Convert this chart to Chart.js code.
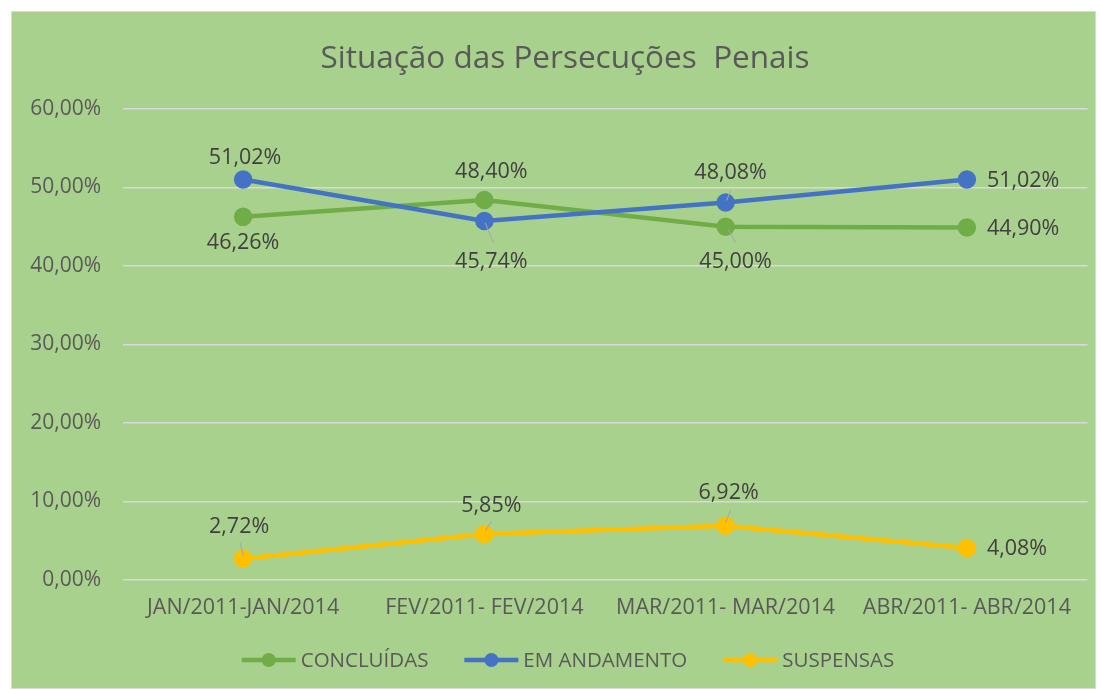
<!DOCTYPE html>
<html>
<head>
<meta charset="utf-8">
<script src="https://cdn.jsdelivr.net/npm/chart.js@4/dist/chart.umd.min.js"></script>
<style>
  html, body { margin: 0; padding: 0; background: #ffffff; }
  #frame { position: absolute; left: 11px; top: 11px; width: 1083px; height: 676px;
           background: #A9D18E; border: 1px solid #D9D9D9; }
  canvas { display: block; }
</style>
</head>
<body>
<div id="frame"><canvas id="c" width="1083" height="676"></canvas></div>
<script>
// ---- DATA ----
const title = 'Situação das Persecuções  Penais';
const categories = ['JAN/2011-JAN/2014', 'FEV/2011- FEV/2014', 'MAR/2011- MAR/2014', 'ABR/2011- ABR/2014'];
const seriesNames = ['CONCLUÍDAS', 'EM ANDAMENTO', 'SUSPENSAS'];
const concluidas = [46.26, 48.40, 45.00, 44.90];
const emAndamento = [51.02, 45.74, 48.08, 51.02];
const suspensas = [2.72, 5.85, 6.92, 4.08];
const yTickValues = [0, 10, 20, 30, 40, 50, 60];

// ---- STYLE ----
const colors = ['#70AD47', '#4472C4', '#FFC000'];
const textColor = '#595959';
const fontFamily = '"Open Sans", "DejaVu Sans", sans-serif';
// data label placement per series/point: offset from point, alignment, optional leader line
const labelPlacement = [
  [ {dx: 0, dy: 26}, {dx: 7, dy: -28}, {dx: 10, dy: 35, lead: [2, 2, 10, 16]}, {dx: 20, dy: 1, align: 'left'} ],
  [ {dx: 2, dy: -22}, {dx: 7, dy: 41, lead: [1, 2, 9, 22]}, {dx: 5, dy: -30, lead: [1, -2, 5, -12]}, {dx: 20, dy: 1, align: 'left'} ],
  [ {dx: -4, dy: -32, lead: [0, -3, -3, -16]}, {dx: 7, dy: -28, lead: [1, -3, 7, -13]}, {dx: 3, dy: -33, lead: [0, -3, 5, -16]}, {dx: 20, dy: 1, align: 'left'} ]
];

const fmt = v => v.toFixed(2).replace('.', ',') + '%';

const seriesValues = [concluidas, emAndamento, suspensas];
const drawOrder = [3, 2, 1];

const datasets = seriesValues.map((vals, i) => ({
  label: seriesNames[i],
  data: vals,
  borderColor: colors[i],
  backgroundColor: colors[i],
  pointBackgroundColor: colors[i],
  pointBorderColor: colors[i],
  borderWidth: 4.5,
  pointRadius: 7,
  pointHoverRadius: 7,
  tension: 0,
  order: drawOrder[i]
}));

const decorPlugin = {
  id: 'decor',
  afterDatasetsDraw(chart) {
    const ctx = chart.ctx;
    ctx.save();
    // data labels
    ctx.font = '21.5px ' + fontFamily;
    ctx.textBaseline = 'middle';
    chart.data.datasets.forEach((ds, i) => {
      const meta = chart.getDatasetMeta(i);
      meta.data.forEach((pt, j) => {
        const p = labelPlacement[i][j];
        if (p.lead) {
          ctx.strokeStyle = '#A6A6A6';
          ctx.lineWidth = 1;
          ctx.beginPath();
          ctx.moveTo(pt.x + p.lead[0], pt.y + p.lead[1]);
          ctx.lineTo(pt.x + p.lead[2], pt.y + p.lead[3]);
          ctx.stroke();
        }
        ctx.fillStyle = '#404040';
        ctx.textAlign = p.align || 'center';
        ctx.fillText(fmt(ds.data[j]), pt.x + p.dx, pt.y + p.dy);
      });
    });
    // title
    ctx.fillStyle = textColor;
    ctx.font = '31.5px ' + fontFamily;
    ctx.textAlign = 'center';
    ctx.textBaseline = 'middle';
    ctx.fillText(title, 553, 47);
    // legend
    ctx.font = '20.5px ' + fontFamily;
    const markerW = 54, gapText = 5, gapItem = 36;
    const widths = seriesNames.map(n => ctx.measureText(n).width);
    let total = 0;
    widths.forEach((w, i) => { total += markerW + gapText + w + (i < widths.length - 1 ? gapItem : 0); });
    let x = 556 - total / 2;
    const ly = 648;
    seriesNames.forEach((n, i) => {
      ctx.strokeStyle = colors[i];
      ctx.lineWidth = 4.5;
      ctx.beginPath();
      ctx.moveTo(x, ly);
      ctx.lineTo(x + markerW, ly);
      ctx.stroke();
      ctx.fillStyle = colors[i];
      ctx.beginPath();
      ctx.arc(x + markerW / 2, ly, 7, 0, Math.PI * 2);
      ctx.fill();
      ctx.fillStyle = textColor;
      ctx.textAlign = 'left';
      ctx.fillText(n, x + markerW + gapText, ly + 1);
      x += markerW + gapText + widths[i] + gapItem;
    });
    ctx.restore();
  }
};

new Chart(document.getElementById('c'), {
  type: 'line',
  data: { labels: categories, datasets: datasets },
  plugins: [decorPlugin],
  options: {
    responsive: false,
    animation: false,
    devicePixelRatio: 1,
    layout: { autoPadding: false, padding: { top: 97, bottom: 48, left: 0, right: 7.5 } },
    plugins: { legend: { display: false }, title: { display: false }, tooltip: { enabled: false } },
    scales: {
      x: {
        offset: true,
        grid: { display: false },
        border: { display: false },
        ticks: { color: textColor, font: { family: fontFamily, size: 21.5 }, padding: 7, maxRotation: 0, autoSkip: false },
        afterFit: s => { s.height = 60; s.paddingLeft = 0; s.paddingRight = 0; }
      },
      y: {
        min: 0, max: 60,
        afterBuildTicks: s => { s.ticks = yTickValues.map(v => ({ value: v })); },
        grid: { color: '#D9D9D9', lineWidth: 1.5, drawTicks: false },
        border: { display: false },
        ticks: { color: textColor, font: { family: fontFamily, size: 21 }, padding: 21.5, callback: v => fmt(v) },
        afterFit: s => { s.width = 110.5; s.paddingTop = 0; s.paddingBottom = 0; }
      }
    }
  }
});
</script>
</body>
</html>
